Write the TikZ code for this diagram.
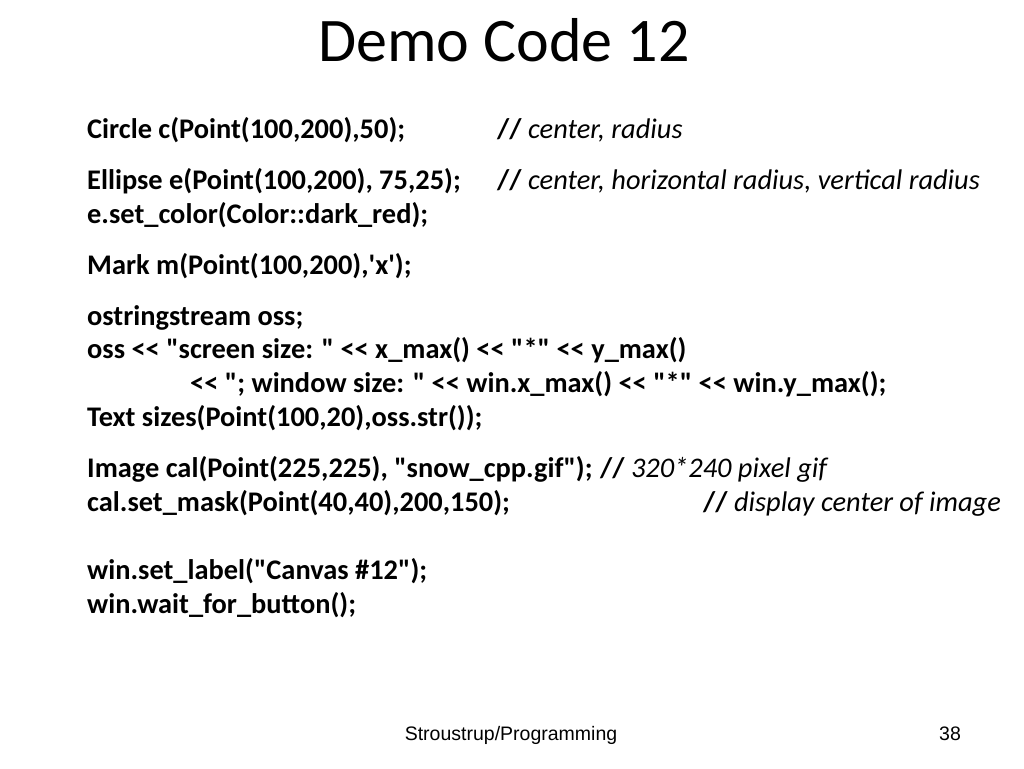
\documentclass[tikz,border=0pt]{standalone}
\usepackage{fontspec}
\setmainfont{Carlito}[Ligatures=TeXOff]
\newfontfamily\arialfont{Liberation Sans}
\tikzset{
  codeline/.style={anchor=base west, inner sep=0pt, font=\fontsize{28.4}{34}\selectfont\bfseries},
  cmt/.style={anchor=base west, inner sep=0pt, font=\fontsize{28.4}{34}\selectfont},
  foot/.style={anchor=base, inner sep=0pt, font=\fontsize{19.5}{22}\selectfont\arialfont}
}
\newcommand{\rem}[1]{{\bfseries //} \textit{#1}}
\begin{document}
\begin{tikzpicture}[x=1pt,y=-1pt]
    \useasboundingbox (0,0) rectangle (1024,768);
    \fill[white] (0,0) rectangle (1024,768);

    \node[anchor=base, inner sep=0pt, font=\fontsize{62}{74}\selectfont] (title) at (504, 62) {Demo Code 12};

    \node[codeline] (c1) at (87, 138) {Circle c(Point(100,200),50);};
    \node[cmt] (r1) at (497, 138) {\rem{center, radius}};

    \node[codeline] (c2) at (87, 189) {Ellipse e(Point(100,200), 75,25);};
    \node[cmt] (r2) at (497, 189) {\rem{center, horizontal radius, vertical radius}};
    \node[codeline] (c3) at (87, 223) {e.set\_color(Color::dark\_red);};

    \node[codeline] (c4) at (87, 274) {Mark m(Point(100,200),\textquotesingle x\textquotesingle);};

    \node[codeline] (c5) at (87, 325) {ostringstream oss;};
    \node[codeline] (c6) at (87, 358) {oss << "screen size: " << x\_max() << "*" << y\_max()};
    \node[codeline] (c7) at (190, 392) {<< "; window size: " << win.x\_max() << "*" << win.y\_max();};
    \node[codeline] (c8) at (87, 426) {Text sizes(Point(100,20),oss.str());};

    \node[codeline] (c9) at (87, 477) {Image cal(Point(225,225), "snow\_cpp.gif");};
    \node[cmt] (r9) at (600, 477) {\rem{320*240 pixel gif}};
    \node[codeline] (c10) at (87, 511) {cal.set\_mask(Point(40,40),200,150);};
    \node[cmt] (r10) at (703, 511) {\rem{display center of image}};

    \node[codeline] (c11) at (87, 579) {win.set\_label("Canvas \#12");};
    \node[codeline] (c12) at (87, 613) {win.wait\_for\_button();};

    \node[foot] (src) at (511, 740) {Stroustrup/Programming};
    \node[foot] (page) at (950, 740) {38};
\end{tikzpicture}
\end{document}
